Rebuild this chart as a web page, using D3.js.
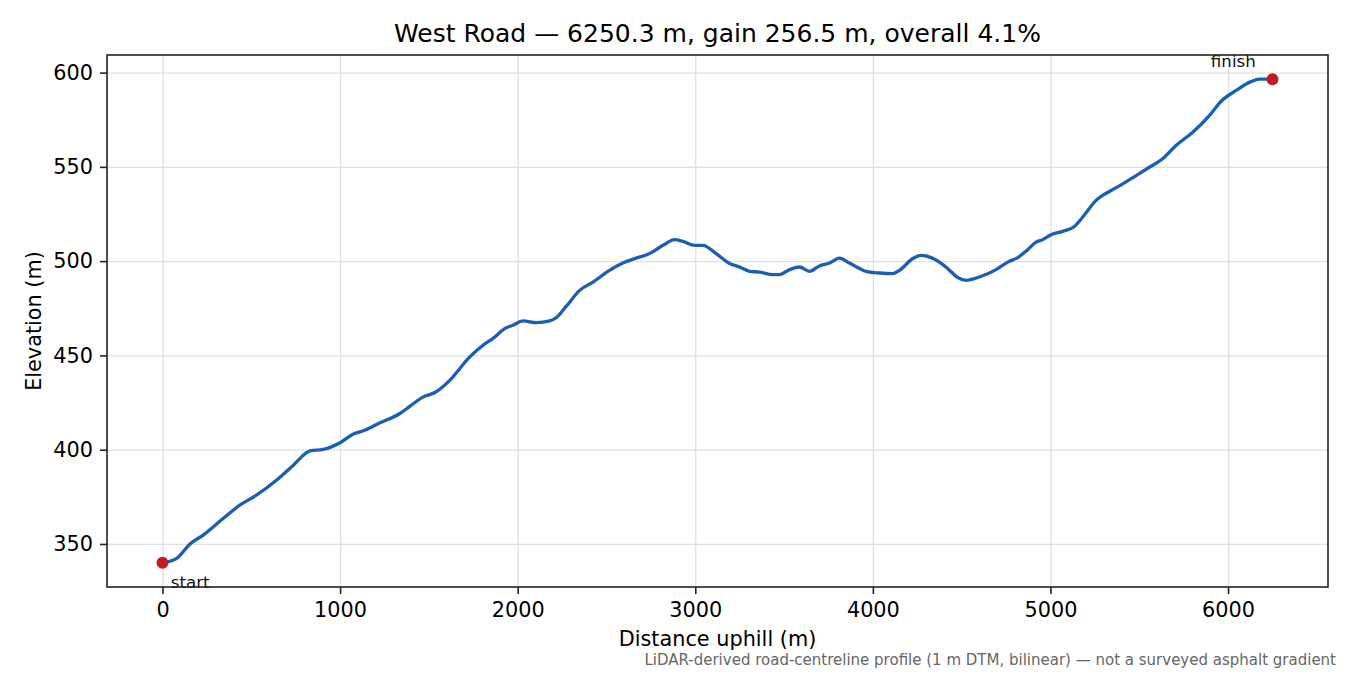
<!DOCTYPE html>
<html>
<head>
<meta charset="utf-8">
<script src="https://cdn.jsdelivr.net/npm/d3@7"></script>
<style>
  body { margin: 0; background: #fff; }
  text { font-family: "DejaVu Sans", sans-serif; }
</style>
</head>
<body>
<div id="chart-area"></div>
<script>
// profile (distance uphill in m, elevation in m)
const distance = [0, 80, 155, 231, 343, 437, 531, 643, 737, 831, 906, 1000, 1075, 1131, 1225, 1337,
  1394, 1469, 1534, 1619, 1730, 1805, 1861, 1927, 1973, 2030, 2105, 2180, 2218, 2274, 2349, 2424,
  2517, 2592, 2668, 2743, 2818, 2884, 2930, 2997, 3043, 3118, 3193, 3249, 3305, 3362, 3437, 3474,
  3531, 3587, 3643, 3699, 3756, 3812, 3868, 3962, 4037, 4112, 4150, 4225, 4272, 4375, 4422, 4478,
  4525, 4600, 4694, 4760, 4816, 4872, 4919, 4956, 5004, 5069, 5135, 5182, 5257, 5350, 5407, 5482,
  5557, 5632, 5707, 5801, 5895, 5961, 6045, 6129, 6176, 6250.3];
const elevation = [340, 342.4, 350.0, 354.8, 363.6, 370.7, 376.0, 383.9, 391.8, 399.4, 400.2, 403.7,
  408.3, 410.0, 414.3, 419.2, 423.1, 428.0, 430.3, 436.9, 449.2, 455.4, 459.0, 464.2, 466.0, 468.3,
  467.4, 468.3, 470.1, 476.1, 484.5, 488.9, 495.1, 499.0, 501.6, 504.0, 508.4, 511.4, 510.5, 508.4,
  508.4, 504.0, 498.7, 496.9, 494.6, 494.2, 492.8, 492.8, 495.5, 496.9, 494.6, 497.4, 499.0, 501.6,
  499.0, 494.6, 493.7, 493.4, 495.1, 501.4, 503.1, 499.5, 496.0, 491.3, 489.8, 491.6, 495.5, 499.5,
  501.9, 506.1, 510.1, 511.4, 514.0, 515.8, 518.4, 523.4, 532.2, 537.9, 541.0, 545.4, 549.8, 554.3,
  561.3, 568.4, 577.2, 584.8, 590.5, 595.2, 596.5, 596.5];

const xTicks = [0, 1000, 2000, 3000, 4000, 5000, 6000];
const yTicks = [350, 400, 450, 500, 550, 600];
const markers = [
  {label: "start", i: 0},
  {label: "finish", i: distance.length - 1}
];

const titleText = "West Road \u2014 6250.3 m, gain 256.5 m, overall 4.1%";
const noteText = "LiDAR-derived road-centreline profile (1 m DTM, bilinear) \u2014 not a surveyed asphalt gradient";

const margin = {top: 55, right: 22, bottom: 88, left: 107},
  width = 1350 - margin.left - margin.right,
  height = 675 - margin.top - margin.bottom;

const svg = d3.select("#chart-area")
  .append("svg")
  .attr("width", 1350)
  .attr("height", 675);

const g = svg.append("g")
  .attr("transform", "translate(" + margin.left + "," + margin.top + ")");

const data = distance.map((d, i) => ({d: d, e: elevation[i]}));

// matplotlib style 5% padding
const xExt = d3.extent(distance), yExt = d3.extent(elevation);
const xPad = (xExt[1] - xExt[0]) * 0.05, yPad = (yExt[1] - yExt[0]) * 0.05;

const x = d3.scaleLinear()
  .domain([xExt[0] - xPad, xExt[1] + xPad])
  .range([0, width]);
const y = d3.scaleLinear()
  .domain([yExt[0] - yPad, yExt[1] + yPad])
  .range([height, 0]);

// grid
g.append("g")
  .attr("class", "grid")
  .call(d3.axisLeft(y).tickValues(yTicks).tickSize(-width).tickFormat(""));
g.append("g")
  .attr("class", "grid")
  .attr("transform", "translate(0," + height + ")")
  .call(d3.axisBottom(x).tickValues(xTicks).tickSize(-height).tickFormat(""));
g.selectAll(".grid .domain").remove();
g.selectAll(".grid line")
  .attr("stroke", "#e0e0e0")
  .attr("stroke-width", 1.3);

// axes
const x_axis = g.append("g")
  .attr("transform", "translate(0," + height + ")")
  .call(d3.axisBottom(x).tickValues(xTicks).tickSize(7).tickPadding(8).tickFormat(d3.format("d")));
const y_axis = g.append("g")
  .call(d3.axisLeft(y).tickValues(yTicks).tickSize(7).tickPadding(7).tickFormat(d3.format("d")));
[x_axis, y_axis].forEach(a => {
  a.selectAll(".domain").remove();
  a.selectAll("line").attr("stroke", "#222").attr("stroke-width", 1.6);
  a.selectAll("text")
    .attr("font-family", "DejaVu Sans")
    .attr("font-size", "20.8px")
    .attr("fill", "#000");
});

// line
const line = d3.line()
  .x(d => x(d.d))
  .y(d => y(d.e))
  .curve(d3.curveMonotoneX);

g.append("path")
  .datum(data)
  .attr("fill", "none")
  .attr("stroke", "#1a5fb4")
  .attr("stroke-width", 3.3)
  .attr("stroke-linejoin", "round")
  .attr("d", line);

// start / finish markers
g.selectAll("circle.mark")
  .data(markers)
  .enter()
  .append("circle")
  .attr("class", "mark")
  .attr("cx", m => x(distance[m.i]))
  .attr("cy", m => y(elevation[m.i]))
  .attr("r", 6)
  .attr("fill", "#c01c28");

g.selectAll("text.mark")
  .data(markers)
  .enter()
  .append("text")
  .attr("class", "mark")
  .attr("x", m => x(distance[m.i]) + (m.i === 0 ? 8.3 : -16.7))
  .attr("y", m => y(elevation[m.i]) + (m.i === 0 ? 25 : -12.5))
  .attr("text-anchor", m => m.i === 0 ? "start" : "end")
  .attr("font-size", "16.7px")
  .attr("fill", "#111")
  .text(m => m.label);

// frame
g.append("rect")
  .attr("width", width)
  .attr("height", height)
  .attr("fill", "none")
  .attr("stroke", "#222")
  .attr("stroke-width", 1.6);

// labels
svg.append("text")
  .attr("x", margin.left + width / 2)
  .attr("y", 42)
  .attr("text-anchor", "middle")
  .attr("font-size", "25px")
  .text(titleText);

svg.append("text")
  .attr("x", margin.left + width / 2)
  .attr("y", 646)
  .attr("text-anchor", "middle")
  .attr("font-size", "20.8px")
  .text("Distance uphill (m)");

svg.append("text")
  .attr("transform", "rotate(-90)")
  .attr("x", -(margin.top + height / 2))
  .attr("y", 41)
  .attr("text-anchor", "middle")
  .attr("font-size", "20.8px")
  .text("Elevation (m)");

svg.append("text")
  .attr("x", 1336)
  .attr("y", 665)
  .attr("text-anchor", "end")
  .attr("font-size", "15px")
  .attr("fill", "#666")
  .text(noteText);
</script>
</body>
</html>
